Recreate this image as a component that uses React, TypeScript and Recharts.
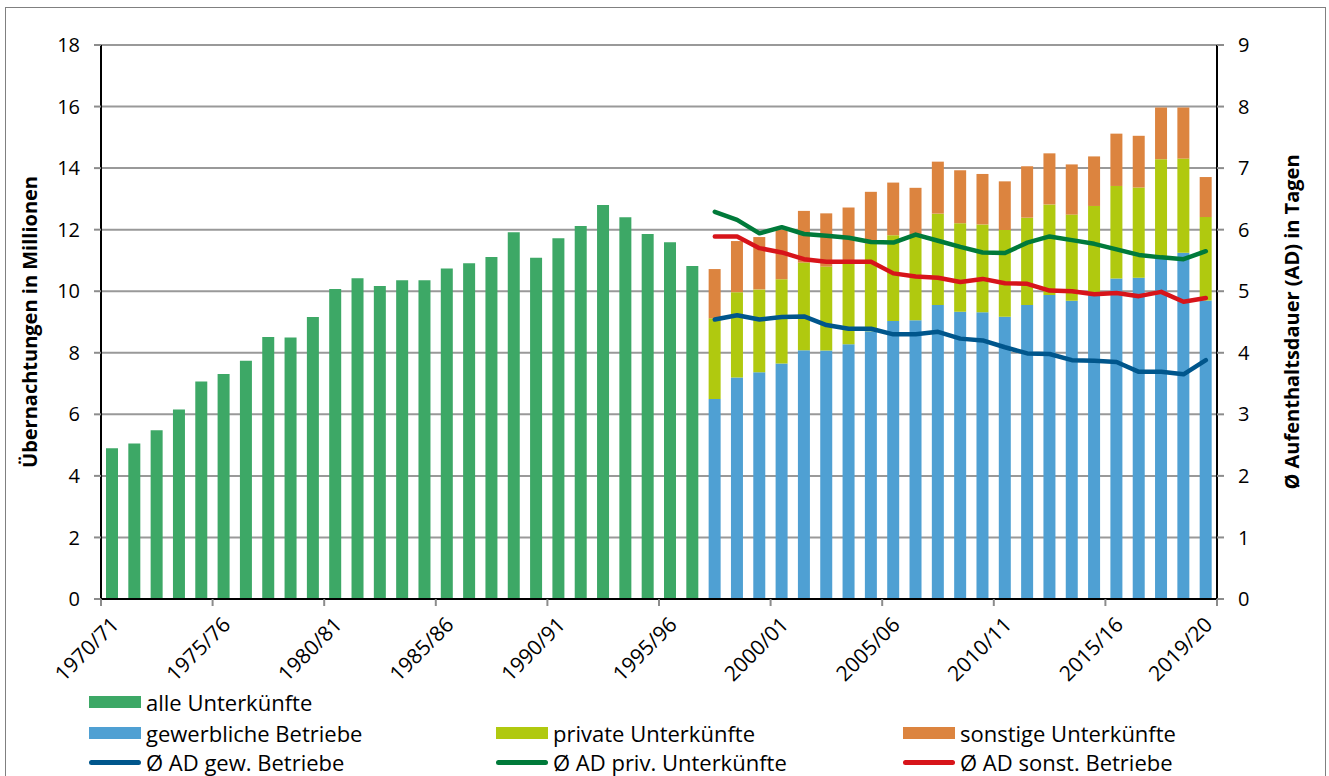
import React from "react";
import {
  ComposedChart,
  Bar,
  Line,
  XAxis,
  YAxis,
  CartesianGrid,
  Legend,
} from "recharts";

const seasons = [
  "1970/71", "1971/72", "1972/73", "1973/74", "1974/75", "1975/76", "1976/77", "1977/78", "1978/79", "1979/80",
  "1980/81", "1981/82", "1982/83", "1983/84", "1984/85", "1985/86", "1986/87", "1987/88", "1988/89", "1989/90",
  "1990/91", "1991/92", "1992/93", "1993/94", "1994/95", "1995/96", "1996/97", "1997/98", "1998/99", "1999/00",
  "2000/01", "2001/02", "2002/03", "2003/04", "2004/05", "2005/06", "2006/07", "2007/08", "2008/09", "2009/10",
  "2010/11", "2011/12", "2012/13", "2013/14", "2014/15", "2015/16", "2016/17", "2017/18", "2018/19", "2019/20",
];

const tickLabels = [
  "1970/71", "1975/76", "1980/81", "1985/86", "1990/91", "1995/96",
  "2000/01", "2005/06", "2010/11", "2015/16", "2019/20",
];

// Übernachtungen in Mio. – alle Unterkünfte (1970/71–1996/97)
const alleUnterkuenfte = [
  4.9, 5.05, 5.48, 6.16, 7.07, 7.31, 7.74, 8.51, 8.5, 9.16,
  10.07, 10.42, 10.17, 10.36, 10.36, 10.74, 10.91, 11.11, 11.92, 11.09,
  11.72, 12.12, 12.8, 12.4, 11.86, 11.59, 10.82,
];

// 1997/98–2019/20
const gewerblicheBetriebe = [
  6.5, 7.2, 7.37, 7.65, 8.08, 8.07, 8.28, 8.7, 9.03, 9.06, 9.55, 9.33,
  9.32, 9.17, 9.55, 9.88, 9.69, 9.93, 10.41, 10.44, 11.12, 11.25, 9.7,
];
const privateUnterkuenfte = [
  2.62, 2.77, 2.69, 2.74, 2.85, 2.73, 2.68, 2.84, 2.79, 2.71, 2.97, 2.88,
  2.85, 2.82, 2.84, 2.94, 2.8, 2.84, 3.01, 2.93, 3.17, 3.06, 2.71,
];
const sonstigeUnterkuenfte = [
  1.6, 1.66, 1.7, 1.61, 1.68, 1.73, 1.76, 1.69, 1.71, 1.59, 1.69, 1.72,
  1.64, 1.58, 1.67, 1.66, 1.63, 1.61, 1.7, 1.68, 1.68, 1.66, 1.3,
];

// Ø Aufenthaltsdauer in Tagen
const adGewerblich = [
  4.54, 4.61, 4.54, 4.58, 4.59, 4.45, 4.39, 4.39, 4.3, 4.3, 4.34, 4.23,
  4.2, 4.09, 3.99, 3.98, 3.88, 3.87, 3.85, 3.69, 3.69, 3.65, 3.88,
];
const adPrivat = [
  6.29, 6.16, 5.94, 6.04, 5.93, 5.9, 5.87, 5.8, 5.79, 5.92, 5.82, 5.72,
  5.63, 5.62, 5.79, 5.89, 5.83, 5.77, 5.68, 5.59, 5.55, 5.52, 5.65,
];
const adSonstige = [
  5.89, 5.89, 5.7, 5.63, 5.52, 5.48, 5.48, 5.48, 5.29, 5.24, 5.22, 5.15,
  5.2, 5.13, 5.12, 5.01, 5.0, 4.95, 4.97, 4.92, 4.99, 4.83, 4.89,
];

const leftTicks = [0, 2, 4, 6, 8, 10, 12, 14, 16, 18];
const rightTicks = [0, 1, 2, 3, 4, 5, 6, 7, 8, 9];

const splitIndex = alleUnterkuenfte.length;

const data = seasons.map((season, i) => {
  const j = i - splitIndex;
  const late = j >= 0;
  return {
    season,
    alle: late ? null : alleUnterkuenfte[i],
    gew: late ? gewerblicheBetriebe[j] : null,
    priv: late ? privateUnterkuenfte[j] : null,
    sonst: late ? sonstigeUnterkuenfte[j] : null,
    adGew: late ? adGewerblich[j] : null,
    adPriv: late ? adPrivat[j] : null,
    adSonst: late ? adSonstige[j] : null,
  };
});

const C = {
  alle: "#3DA866",
  gew: "#4FA0D3",
  priv: "#B0C90F",
  sonst: "#DC843F",
  adGew: "#00568C",
  adPriv: "#007A3A",
  adSonst: "#D7141A",
};

const FONT = "'Open Sans', 'Noto Sans', sans-serif";

const XTick = (props: any) => {
  const { x, y, payload } = props;
  const half = payload && payload.offset ? payload.offset : 11.16;
  const isLast = payload.value === seasons[seasons.length - 1];
  const bx = isLast ? x + half : x - half;
  return (
    <g>
      <line x1={bx} y1={y} x2={bx} y2={y + 7} stroke="#8c8c8c" strokeWidth={2} />
      <text
        x={x + 8}
        y={y + 27}
        textAnchor="end"
        transform={`rotate(-45, ${x + 8}, ${y + 27})`}
        fontSize={21}
        fontFamily={FONT}
        fill="#000"
      >
        {payload.value}
      </text>
    </g>
  );
};

const legendRows = [
  [{ label: "alle Unterkünfte", color: C.alle, kind: "bar" }],
  [
    { label: "gewerbliche Betriebe", color: C.gew, kind: "bar" },
    { label: "private Unterkünfte", color: C.priv, kind: "bar" },
    { label: "sonstige Unterkünfte", color: C.sonst, kind: "bar" },
  ],
  [
    { label: "Ø AD gew. Betriebe", color: C.adGew, kind: "line" },
    { label: "Ø AD priv. Unterkünfte", color: C.adPriv, kind: "line" },
    { label: "Ø AD sonst. Betriebe", color: C.adSonst, kind: "line" },
  ],
];
const legendCols = [89, 496, 903];
const legendRowY = [22, 53, 82];

const LegendContent = () => (
  <div style={{ position: "relative", width: 1329, height: 96, fontFamily: FONT }}>
    {legendRows.map((row, r) =>
      row.map((item, c) => (
        <div
          key={`${r}-${c}`}
          style={{
            position: "absolute",
            left: legendCols[c],
            top: legendRowY[r] - 12,
            height: 24,
            display: "flex",
            alignItems: "center",
            whiteSpace: "nowrap",
          }}
        >
          {item.kind === "bar" ? (
            <span style={{ display: "inline-block", width: 52, height: 12, background: item.color }} />
          ) : (
            <span
              style={{
                display: "inline-block",
                width: 52,
                height: 5,
                borderRadius: 3,
                background: item.color,
              }}
            />
          )}
          <span style={{ marginLeft: 5, fontSize: 22, lineHeight: "24px", color: "#000" }}>{item.label}</span>
        </div>
      ))
    )}
  </div>
);

export default function App() {
  return (
    <div
      style={{
        position: "absolute",
        left: 0,
        top: 0,
        width: 1329,
        height: 776,
        overflow: "hidden",
        background: "#fff",
      }}
    >
      <div
        style={{
          position: "absolute",
          left: 5,
          top: 7,
          width: 1319,
          height: 820,
          border: "1.5px solid #808080",
        }}
      />
      <ComposedChart
        width={1329}
        height={776}
        data={data}
        margin={{ top: 45, right: 0, bottom: 0, left: 0 }}
        barSize={12}
        style={{ fontFamily: FONT }}
      >
        <CartesianGrid yAxisId="left" vertical={false} stroke="#999" strokeWidth={2} />
        <XAxis
          dataKey="season"
          ticks={tickLabels}
          interval={0}
          tick={<XTick />}
          tickLine={false}
          tickSize={0}
          tickMargin={0}
          height={81}
          axisLine={{ stroke: "#000", strokeWidth: 2 }}
        />
        <YAxis
          yAxisId="left"
          domain={[0, 18]}
          ticks={leftTicks}
          interval={0}
          width={101}
          tickSize={7}
          tickMargin={14}
          tickLine={{ stroke: "#8c8c8c", strokeWidth: 2 }}
          axisLine={{ stroke: "#000", strokeWidth: 2 }}
          tick={{ fill: "#000", fontSize: 20, fontFamily: FONT }}
          label={{
            value: "Übernachtungen in Millionen",
            angle: -90,
            position: "insideLeft",
            offset: 30,
            style: { textAnchor: "middle", fontSize: 20, fontWeight: 700, fill: "#000", fontFamily: FONT },
          }}
        />
        <YAxis
          yAxisId="right"
          orientation="right"
          domain={[0, 9]}
          ticks={rightTicks}
          interval={0}
          width={112}
          tickSize={7}
          tickMargin={14}
          tickLine={{ stroke: "#8c8c8c", strokeWidth: 2 }}
          axisLine={{ stroke: "#000", strokeWidth: 2 }}
          tick={{ fill: "#000", fontSize: 20, fontFamily: FONT }}
          label={{
            value: "Ø Aufenthaltsdauer (AD) in Tagen",
            angle: -90,
            position: "insideRight",
            offset: 37,
            style: { textAnchor: "middle", fontSize: 20, fontWeight: 700, fill: "#000", fontFamily: FONT },
          }}
        />
        <Legend verticalAlign="bottom" content={<LegendContent />} wrapperStyle={{ height: 96 }} />
        <Bar yAxisId="left" dataKey="alle" name="alle Unterkünfte" stackId="s" fill={C.alle} isAnimationActive={false} />
        <Bar yAxisId="left" dataKey="gew" name="gewerbliche Betriebe" stackId="s" fill={C.gew} isAnimationActive={false} />
        <Bar yAxisId="left" dataKey="priv" name="private Unterkünfte" stackId="s" fill={C.priv} isAnimationActive={false} />
        <Bar yAxisId="left" dataKey="sonst" name="sonstige Unterkünfte" stackId="s" fill={C.sonst} isAnimationActive={false} />
        <Line yAxisId="right" dataKey="adGew" name="Ø AD gew. Betriebe" stroke={C.adGew} strokeWidth={4.5} dot={false} strokeLinecap="round" strokeLinejoin="round" isAnimationActive={false} />
        <Line yAxisId="right" dataKey="adPriv" name="Ø AD priv. Unterkünfte" stroke={C.adPriv} strokeWidth={4.5} dot={false} strokeLinecap="round" strokeLinejoin="round" isAnimationActive={false} />
        <Line yAxisId="right" dataKey="adSonst" name="Ø AD sonst. Betriebe" stroke={C.adSonst} strokeWidth={4.5} dot={false} strokeLinecap="round" strokeLinejoin="round" isAnimationActive={false} />
      </ComposedChart>
    </div>
  );
}
